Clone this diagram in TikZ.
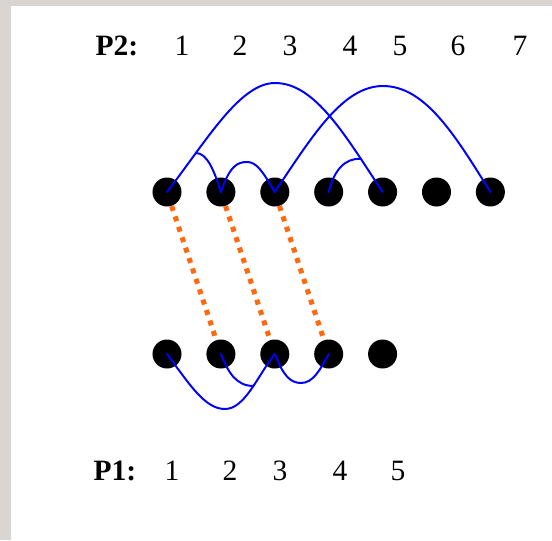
\documentclass[tikz,border=0pt]{standalone}
\usepackage{fontspec}
\setmainfont{Liberation Serif}
\usepackage{tikz}
\usetikzlibrary{positioning}
\definecolor{frame}{HTML}{D9D5D3}
\definecolor{linkblue}{HTML}{0000FF}
\definecolor{matchorange}{HTML}{FF6A10}
\tikzset{
  dot/.style={circle,fill=black,inner sep=0pt,minimum size=0.725cm},
  link/.style={linkblue,line width=1.4pt,line cap=round},
  match/.style={matchorange,line width=3.6pt,dash pattern=on 3.6pt off 4.2pt},
  lbl/.style={anchor=base,inner sep=0pt,font=\fontsize{21}{25}\selectfont}
}

\begin{document}
\begin{tikzpicture}[x=0.025cm,y=-0.025cm,node distance=0.608cm]
  \fill[frame] (0,0) rectangle (552,540);
  \fill[white] (11,6) rectangle (552,540);
  \useasboundingbox (0,0) rectangle (552,540);

  % P2 row
  \node[dot] (t1) at (167,192) {};
  \node[dot,right=of t1] (t2) {};
  \node[dot,right=of t2] (t3) {};
  \node[dot,right=of t3] (t4) {};
  \node[dot,right=of t4] (t5) {};
  \node[dot,right=of t5] (t6) {};
  \node[dot,right=of t6] (t7) {};

  % P1 row
  \node[dot] (b1) at (167,354) {};
  \node[dot,right=of b1] (b2) {};
  \node[dot,right=of b2] (b3) {};
  \node[dot,right=of b3] (b4) {};
  \node[dot,right=of b4] (b5) {};

  \draw[match] (t1) -- (b2);
  \draw[match] (t2) -- (b3);
  \draw[match] (t3) -- (b4);

  \draw[link] (t1.center) .. controls (207,140) and (240,83) .. (275,83) coordinate[pos=0.25] (ja)
    .. controls (315,83) and (345,135) .. (t5.center) coordinate[pos=0.8] (jb);
  \draw[link] (t3.center) .. controls (313,135) and (343,86) .. (383,86)
    .. controls (425,86) and (455,135) .. (t7.center);
  \draw[link] (ja) .. controls (207,153) and (214,170) .. (t2.center);
  \draw[link] (t2.center) .. controls (230,165) and (238,162) .. (247,162)
    .. controls (256,162) and (262,170) .. (t3.center);
  \draw[link] (t4.center) .. controls (334,170) and (345,158) .. (jb);

  \draw[link] (b1.center) .. controls (190,385) and (205,409) .. (225,409)
    .. controls (245,409) and (258,375) .. (b3.center) coordinate[pos=0.55] (jc);
  \draw[link] (b2.center) .. controls (228,372) and (236,386) .. (jc);
  \draw[link] (b3.center) .. controls (283,375) and (290,383) .. (301,383)
    .. controls (313,383) and (320,370) .. (b4.center);

  % Labels
  \node[lbl] (p2) at (117,55) {\textbf{P2:}};
  \node[lbl] (n1) at (182,55) {1};
  \node[lbl] (n2) at (240,55) {2};
  \node[lbl] (n3) at (290,55) {3};
  \node[lbl] (n4) at (350,55) {4};
  \node[lbl] (n5) at (400,55) {5};
  \node[lbl] (n6) at (458,55) {6};
  \node[lbl] (n7) at (520,55) {7};

  \node[lbl] (p1) at (115,480) {\textbf{P1:}};
  \node[lbl] (m1) at (172,480) {1};
  \node[lbl] (m2) at (230,480) {2};
  \node[lbl] (m3) at (280,480) {3};
  \node[lbl] (m4) at (340,480) {4};
  \node[lbl] (m5) at (398,480) {5};
\end{tikzpicture}
\end{document}
